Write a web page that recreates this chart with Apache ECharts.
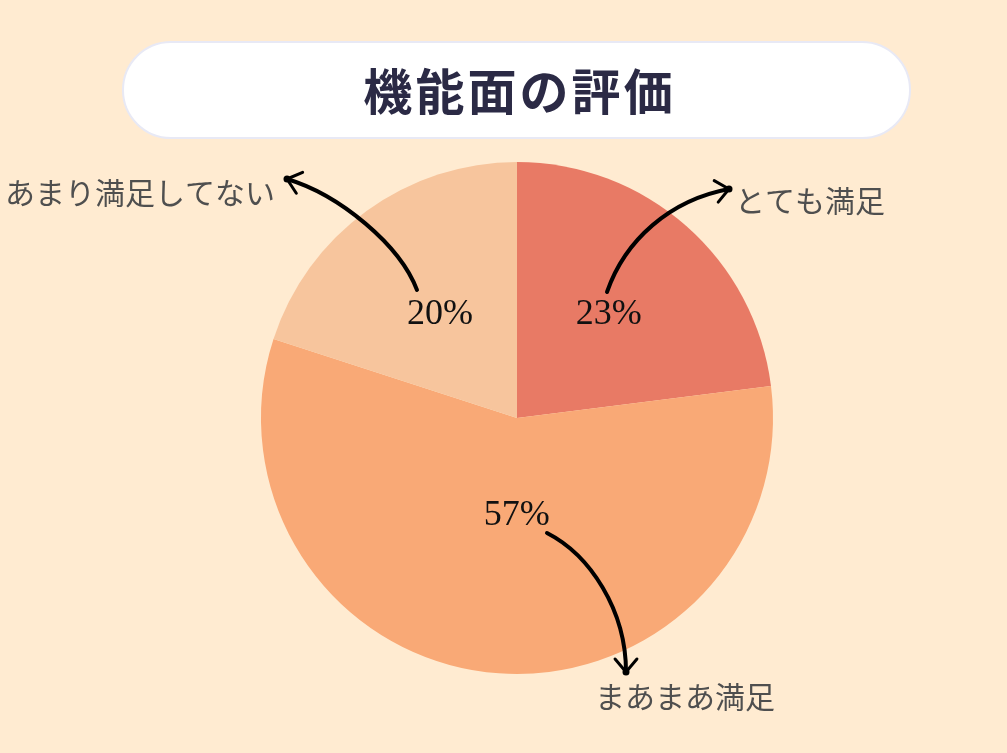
<!DOCTYPE html>
<html>
<head>
<meta charset="utf-8">
<script src="https://cdn.jsdelivr.net/npm/echarts@6/dist/echarts.min.js"></script>
<style>
  html, body { margin: 0; padding: 0; background: #FFEBD1; }
  #chart { width: 1007px; height: 753px; }
</style>
</head>
<body>
<div id="chart"></div>
<script>
// ---- data ----
const titleText = '機能面の評価';
const categories = ['とても満足', 'まあまあ満足', 'あまり満足してない'];
const values = [23, 57, 20];
const sliceColors = ['#E87A65', '#F9A976', '#F7C59D'];

// ---- layout / style config (positions relative to pie centre) ----
const pieCenter = [517, 418];
const pieRadius = 256;
const pctOffsets = [[5, -5], [12, -33], [0, 3]];
// bezier control points for annotation arrows, relative to the pie centre
const arrowPaths = [
  [[90, -126], [108, -178], [153, -218], [212, -229]],
  [[30, 115], [73, 137], [109, 192], [109, 254]],
  [[-100, -128], [-117, -173], [-177, -223], [-230, -239]]
];
// name label anchors relative to the pie centre: [x, y, align]
const nameAnchors = [
  [218, -217, 'left'],
  [78, 279, 'left'],
  [-242, -225, 'right']
];

const chart = echarts.init(document.getElementById('chart'), null, { renderer: 'canvas' });

const graphics = [];
// title pill
graphics.push({
  type: 'rect',
  shape: { x: 123, y: 42, width: 787, height: 96, r: 48 },
  style: { fill: '#FFFFFF', stroke: '#E8E9F5', lineWidth: 2 },
  z: 10
});
graphics.push({
  type: 'text',
  x: 518, y: 91,
  style: {
    text: titleText.split('').join('\u200A'),
    font: 'bold 49px "Noto Sans CJK JP", sans-serif',
    fill: '#2B2A45',
    align: 'center',
    verticalAlign: 'middle'
  },
  z: 11
});

// arrows
arrowPaths.forEach(function (p) {
  const pts = p.map(function (q) { return [pieCenter[0] + q[0], pieCenter[1] + q[1]]; });
  graphics.push({
    type: 'bezierCurve',
    shape: {
      x1: pts[0][0], y1: pts[0][1],
      cpx1: pts[1][0], cpy1: pts[1][1],
      cpx2: pts[2][0], cpy2: pts[2][1],
      x2: pts[3][0], y2: pts[3][1]
    },
    style: { stroke: '#000', lineWidth: 4, fill: null, lineCap: 'round' },
    z: 20
  });
  const dx = pts[3][0] - pts[2][0], dy = pts[3][1] - pts[2][1];
  const len = Math.sqrt(dx * dx + dy * dy);
  const ux = dx / len, uy = dy / len;
  const wing = 17, ang = 40 * Math.PI / 180;
  function rot(a) {
    const c = Math.cos(a), s = Math.sin(a);
    return [pts[3][0] - wing * (ux * c - uy * s), pts[3][1] - wing * (ux * s + uy * c)];
  }
  graphics.push({
    type: 'polyline',
    shape: { points: [rot(ang), pts[3], rot(-ang)] },
    style: { stroke: '#000', lineWidth: 3, fill: null, lineCap: 'round', lineJoin: 'round' },
    z: 20
  });
  graphics.push({
    type: 'circle',
    shape: { cx: pts[3][0], cy: pts[3][1], r: 3.5 },
    style: { fill: '#000' },
    z: 20
  });
});

// name labels
categories.forEach(function (name, i) {
  const a = nameAnchors[i];
  graphics.push({
    type: 'text',
    x: pieCenter[0] + a[0], y: pieCenter[1] + a[1],
    style: {
      text: name,
      font: '30px "Noto Sans CJK JP", sans-serif',
      fill: '#4F4F4F',
      align: a[2],
      verticalAlign: 'middle'
    },
    z: 20
  });
});

chart.setOption({
  backgroundColor: '#FFEBD1',
  animation: false,
  series: [{
    type: 'pie',
    center: pieCenter,
    radius: pieRadius,
    startAngle: 90,
    clockwise: true,
    silent: true,
    label: {
      show: true,
      position: 'inside',
      formatter: '{d}%',
      fontFamily: '"Liberation Serif", "DejaVu Serif", serif',
      fontSize: 36,
      color: '#111111'
    },
    labelLine: { show: false },
    itemStyle: { borderWidth: 0 },
    data: categories.map(function (c, i) {
      return {
        name: c,
        value: values[i],
        itemStyle: { color: sliceColors[i] },
        label: { offset: pctOffsets[i] }
      };
    })
  }],
  graphic: graphics
});
</script>
</body>
</html>
